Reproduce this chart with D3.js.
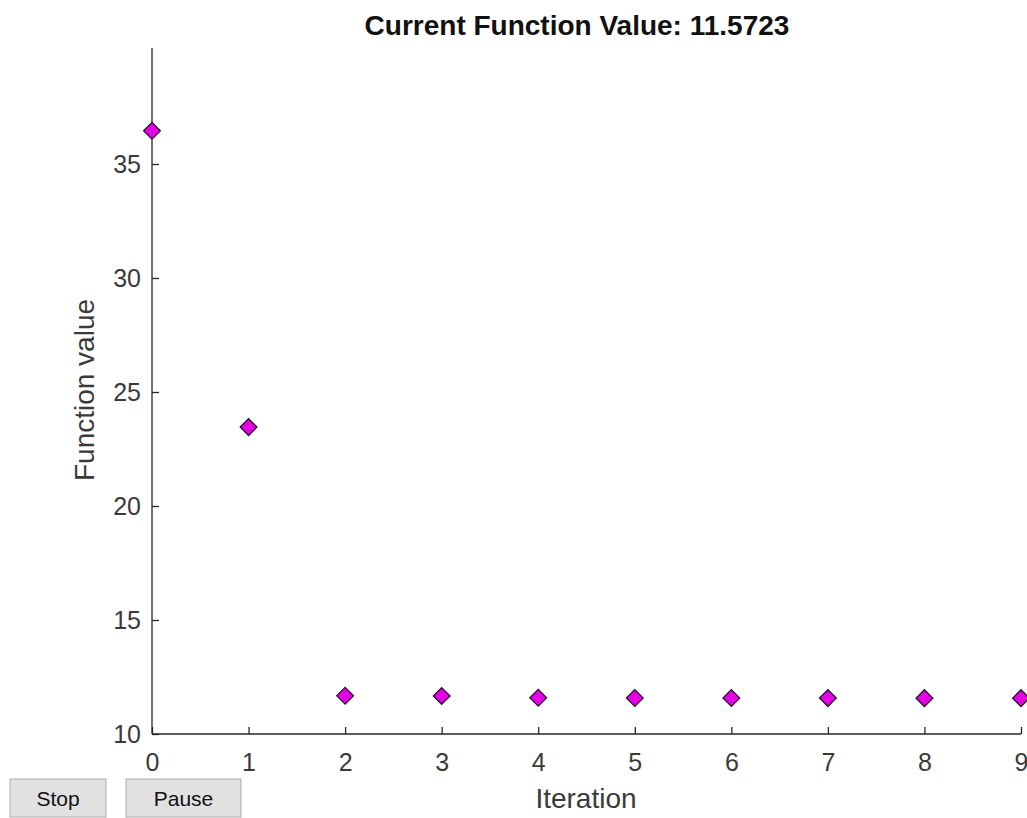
<!DOCTYPE html>
<html><head><meta charset="utf-8">
<script src="https://cdn.jsdelivr.net/npm/d3@7"></script>
<style>
body{margin:0;background:#fff;overflow:hidden;}
svg{display:block;font-family:"Liberation Sans",Arial,Helvetica,sans-serif;}
</style></head>
<body>
<svg id="c" width="1027" height="818"></svg>
<script>
const iterations = [0,1,2,3,4,5,6,7,8,9];
const fvals = [36.46,23.46,11.68,11.67,11.59,11.58,11.576,11.574,11.573,11.5723];
const xTicks = [0,1,2,3,4,5,6,7,8,9];
const yTicks = [10,15,20,25,30,35];
const titleText = "Current Function Value: 11.5723";
const xLabel = "Iteration";
const yLabel = "Function value";
const buttons = ["Stop","Pause"];

const svg = d3.select("#c");
const m = {l:152, r:1021, t:50, b:734};
const x = d3.scaleLinear().domain([0,9]).range([m.l, m.r]);
const y = d3.scaleLinear().domain([10,40]).range([m.b, m.t]);

const axColor = "#262626";
const textColor = "#3a3a3a";
// x axis
const gx = svg.append("g").attr("transform",`translate(0,${m.b})`)
  .call(d3.axisBottom(x).tickValues(xTicks).tickSize(-7).tickPadding(19).tickFormat(d3.format("d")));
// y axis
const gy = svg.append("g").attr("transform",`translate(${m.l},0)`)
  .call(d3.axisLeft(y).tickValues(yTicks).tickSize(-7).tickPadding(11).tickFormat(d3.format("d")));
[gx,gy].forEach(g=>{
  g.select(".domain").attr("stroke",axColor).attr("stroke-width",1.3);
  g.selectAll(".tick line").attr("stroke",axColor).attr("stroke-width",1.3);
  g.selectAll(".tick text").attr("fill",textColor).style("font-size","25px")
   .style("font-family","'Liberation Sans',Arial,sans-serif");
});
gx.select(".domain").attr("d",`M${m.l},0H${m.r}`);
gy.select(".domain").attr("d",`M0,${m.t - 2}V${m.b}`);

// markers
const sym = d3.symbol().type(d3.symbolSquare).size(140);
svg.append("g").selectAll("path").data(iterations).join("path")
  .attr("d", sym)
  .attr("transform",(d,i)=>`translate(${x(d)},${y(fvals[i])}) rotate(45)`)
  .attr("fill","#e600e6").attr("stroke","#2a1030").attr("stroke-width",1.3);

// title
svg.append("text").attr("x",577).attr("y",35).attr("text-anchor","middle")
  .style("font-weight","bold").style("font-size","28px").attr("fill","#111").text(titleText);
// axis labels
svg.append("text").attr("x",586).attr("y",808).attr("text-anchor","middle")
  .style("font-size","28px").attr("fill",textColor).text(xLabel);
svg.append("text").attr("transform","translate(94,390) rotate(-90)").attr("text-anchor","middle")
  .style("font-size","28px").attr("fill",textColor).text(yLabel);

// buttons
const bx = [{x:10,w:96},{x:126,w:115}];
const bg = svg.append("g").selectAll("g").data(buttons).join("g")
  .attr("transform",(d,i)=>`translate(${bx[i].x},779)`);
bg.append("rect").attr("width",(d,i)=>bx[i].w).attr("height",38)
  .attr("fill","#e1e1e1").attr("stroke","#adadad").attr("stroke-width",1);
bg.append("text").attr("x",(d,i)=>bx[i].w/2).attr("y",27).attr("text-anchor","middle")
  .style("font-size","21px").attr("fill","#111").text(d=>d);
</script>
</body></html>
